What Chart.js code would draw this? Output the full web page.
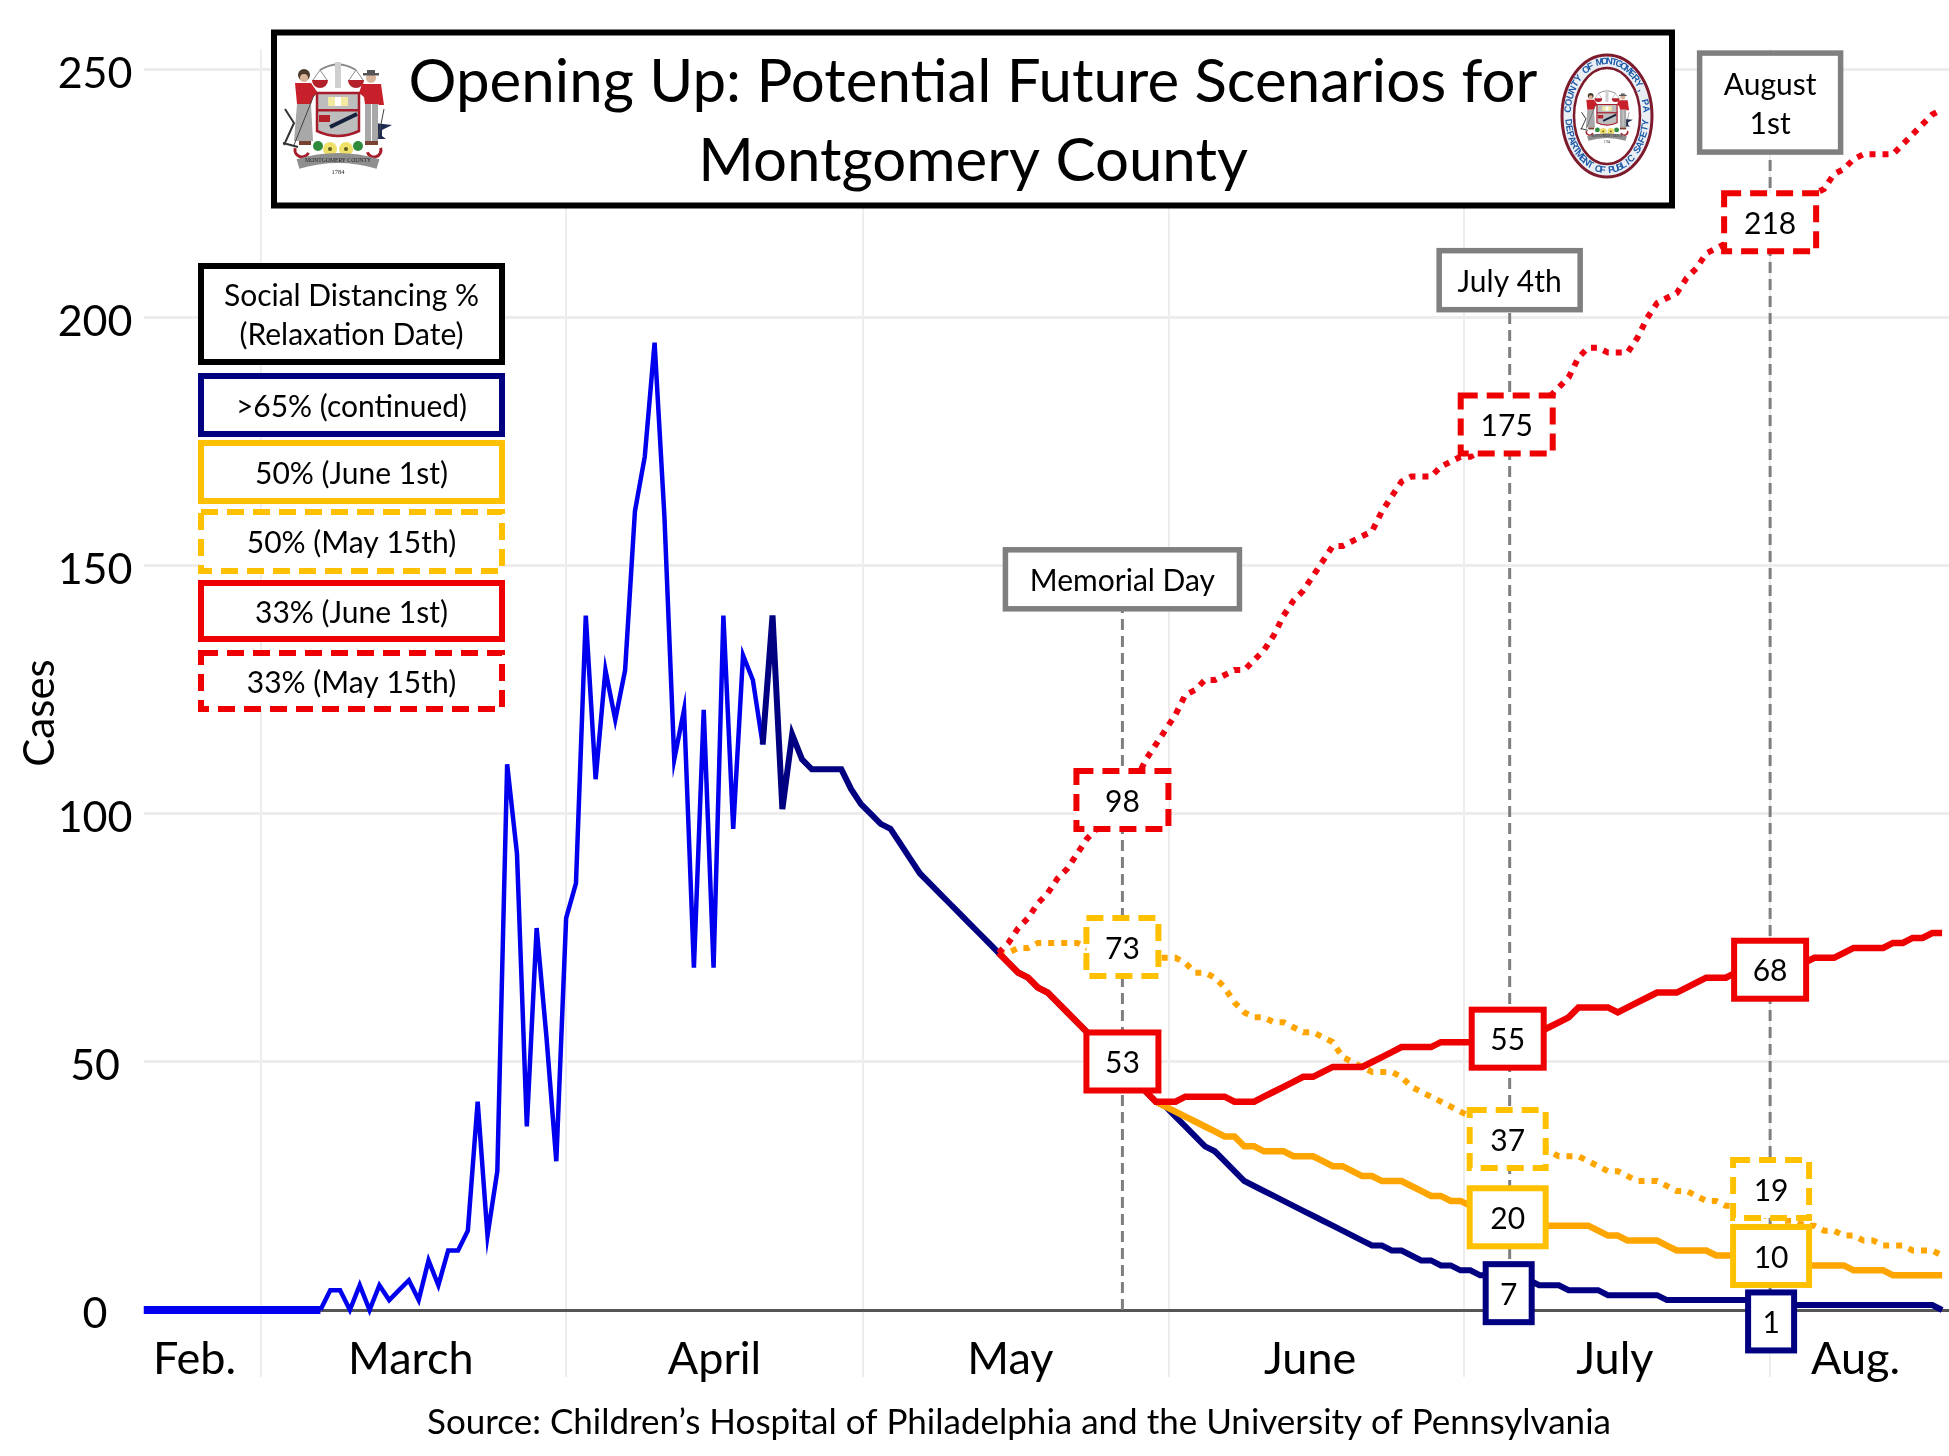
<!DOCTYPE html>
<html>
<head>
<meta charset="utf-8">
<title>Opening Up</title>
<script src="https://cdn.jsdelivr.net/npm/chart.js@4"></script>
<style>
  html, body { margin: 0; padding: 0; background: #fff; }
  canvas { display: block; }
</style>
</head>
<body>
<canvas id="chart" width="1949" height="1456"></canvas>
<script>
// days are counted from March 1st
const titleLines = ['Opening Up: Potential Future Scenarios for', 'Montgomery County'];
const sourceText = 'Source: Children\u2019s Hospital of Philadelphia and the University of Pennsylvania';
const yTicks = [0, 50, 100, 150, 200, 250];
const monthGridDays = [0, 31, 61.2, 92.3, 122.4, 153.5];
const monthNames = ['Feb.', 'March', 'April', 'May', 'June', 'July', 'Aug.'];
const monthLabelDays = [-6.8, 15.2, 46.1, 76.2, 106.7, 137.7, 162.2];

const observedStart = -12;
const observedCases = [0, 0, 0, 0, 0, 0, 0, 0, 0, 0, 0, 0, 0, 0, 0, 0, 0, 0, 0,
  4, 4, 0, 5, 0, 5, 2, 4, 6, 2, 10, 5, 12, 12, 16, 42, 15, 28, 110, 92, 37, 77, 55, 30,
  79, 86, 140, 107, 129, 119, 129, 161, 172, 195, 160, 111, 121, 69, 121, 69, 140, 97, 132, 127, 114];

const continuedStart = 51;
const continuedCases = [114, 140, 101, 116, 111, 109, 109, 109, 109, 105, 102, 100, 98, 97, 94, 91, 88, 86, 84, 82,
  80, 78, 76, 74, 72, 70, 68, 67, 65, 64, 62, 60, 58, 56, 54, 52, 50, 48, 46, 44, 42,
  41, 39, 37, 35, 33, 32, 30, 28, 26, 25, 24, 23, 22, 21, 20, 19, 18, 17, 16, 15, 14, 13, 13, 12, 12, 11, 10, 10, 9, 9, 8, 8, 7, 7, 7, 7, 6, 6,
  5, 5, 5, 4, 4, 4, 4, 3, 3, 3, 3, 3, 3, 2, 2, 2, 2, 2, 2, 2, 2, 2, 2, 2, 2, 2, 1, 1, 1, 1, 1, 1, 1, 1, 1, 1, 1, 1, 1, 1, 1, 0];

const june50Start = 91;
const june50Cases = [42, 41, 40, 39, 38, 37, 36, 35, 35, 33, 33, 32, 32, 32, 31, 31, 31, 30, 29, 29, 28, 27, 27, 26, 26, 26, 25, 24, 23, 23, 22, 22, 21, 21, 20, 20,
  19, 18, 18, 17, 17, 17, 17, 17, 17, 16, 15, 15, 14, 14, 14, 14, 13, 12, 12, 12, 12, 11, 11, 11, 11, 10, 10, 10, 10, 10,
  9, 9, 9, 9, 9, 8, 8, 8, 8, 7, 7, 7, 7, 7, 7];

const may50Start = 75;
const may50Cases = [72, 72, 73, 73, 74, 74, 74, 74, 74, 73, 73, 73, 73, 73, 72, 72, 71,
  71, 71, 70, 68, 68, 67, 65, 62, 60, 59, 59, 58, 58, 57, 56, 56, 55, 54, 51, 50, 49, 48, 48, 48, 47, 45, 44, 43, 42, 41, 40, 39, 38, 37, 36, 35, 34, 33, 33,
  32, 31, 31, 31, 30, 29, 28, 28, 27, 26, 26, 26, 25, 24, 24, 23, 22, 22, 21, 21, 20, 20, 19, 19, 18, 18, 17, 17, 16, 16, 15, 15, 14, 14, 13, 13, 13, 12, 12, 12, 11];

const june33Start = 75;
const june33Cases = [72, 70, 68, 67, 65, 64, 62, 60, 58, 56, 54, 52, 50, 48, 46, 44, 42, 42, 42, 43, 43, 43, 43, 43, 42, 42, 42, 43, 44, 45, 46, 47, 47, 48, 49, 49, 49, 49,
  50, 51, 52, 53, 53, 53, 53, 54, 54, 54, 54, 54, 55, 55, 55, 55, 56, 56, 57, 58, 59, 61, 61, 61, 61, 60, 61, 62, 63, 64, 64, 64, 65, 66, 67, 67, 67,
  68, 68, 68, 68, 69, 69, 70, 70, 71, 71, 71, 72, 73, 73, 73, 73, 74, 74, 75, 75, 76, 76];

const may33Start = 75;
const may33Cases = [72, 74, 77, 79, 82, 84, 87, 89, 92, 95, 97, 100, 102, 104, 107, 111, 114, 117,
  120, 124, 125, 127, 127, 128, 129, 129, 131, 133, 136, 140, 143, 145, 148, 151, 154, 154, 155, 156, 157, 161, 164, 167, 168, 168, 168, 170, 171, 172, 172,
  173, 175, 176, 177, 179, 181, 182, 184, 186, 188, 192, 194, 194, 193, 193, 193, 196, 200, 203, 204, 205, 208, 210, 213, 214, 215, 216, 217, 217, 218,
  219, 220, 222, 224, 225, 226, 229, 230, 232, 233, 233, 233, 233, 235, 237, 239, 241, 242];

// dashed guides: day and the level where the grey box sits
const eventNames = [['Memorial Day'], ['July 4th'], ['August', '1st']];
const eventDays = [87.6, 127, 153.5];
const eventLevels = [147.3, 207.6, 243.4];

// boxed values on the guides
const calloutTexts = ['98', '73', '53', '175', '55', '37', '20', '7', '218', '68', '19', '10', '1'];
const calloutDays = [87.6, 87.6, 87.6, 126.7, 126.8, 126.8, 126.8, 126.9, 153.5, 153.5, 153.6, 153.6, 153.6];
const calloutLevels = [102.8, 73.2, 50.1, 178.5, 54.7, 34.5, 18.7, 3.4, 219.3, 68.6, 24.4, 10.9, -2.3];
const calloutKinds = ['red33d', 'gold50dn', 'red33', 'red33d', 'red33', 'gold50d', 'gold50', 'navy', 'red33d', 'red33', 'gold50d', 'gold50', 'navy'];

const legendTexts = [['Social Distancing %', '(Relaxation Date)'], ['>65% (continued)'], ['50% (June 1st)'], ['50% (May 15th)'], ['33% (June 1st)'], ['33% (May 15th)']];
const legendKinds = ['black', 'navy', 'gold50', 'gold50d', 'red33', 'red33d'];

const FONT = 'Lato, "Open Sans", sans-serif';
const BOX_LINE = 6;
const boxStyles = {
  black: { color: '#000000', dash: [], width: 0 },
  navy: { color: '#000080', dash: [], width: 46 },
  gold50: { color: '#FFC000', dash: [], width: 76 },
  gold50d: { color: '#FFC000', dash: [17, 9], width: 76 },
  gold50dn: { color: '#FFC000', dash: [17, 9], width: 72 },
  red33: { color: '#EE0000', dash: [], width: 72 },
  red33d: { color: '#EE0000', dash: [17, 9], width: 92 }
};
const legendTop = [265, 375, 442, 511, 582, 652];
const legendBottom = [365, 437, 504, 574, 642, 712];

function toPoints(startDay, values) {
  return values.map((v, i) => ({ x: startDay + i, y: v }));
}

function centeredText(c, text, x, y, size) {
  c.font = size + 'px ' + FONT;
  c.textAlign = 'center';
  c.textBaseline = 'middle';
  c.fillStyle = '#000';
  c.fillText(text, x, y + 2);
}

function drawBox(c, cx, cy, w, h, color, dash, lw) {
  c.save();
  c.fillStyle = '#fff';
  c.fillRect(cx - w / 2, cy - h / 2, w, h);
  c.strokeStyle = color;
  c.lineWidth = lw;
  c.setLineDash(dash);
  c.lineJoin = 'miter';
  c.strokeRect(cx - w / 2, cy - h / 2, w, h);
  c.restore();
}

// rough county crest, s = 1 is the size of the one in the title box
function drawCrest(c, cx, cy, s) {
  c.save();
  c.translate(cx, cy);
  c.scale(s, s);
  const rect = (col, x, y, w, h) => { c.fillStyle = col; c.fillRect(x, y, w, h); };
  const dot = (col, x, y, r) => { c.fillStyle = col; c.beginPath(); c.arc(x, y, r, 0, Math.PI * 2); c.fill(); };
  const poly = (col, pts) => {
    c.fillStyle = col;
    c.beginPath();
    pts.forEach((p, i) => (i ? c.lineTo(p[0], p[1]) : c.moveTo(p[0], p[1])));
    c.closePath();
    c.fill();
  };
  // balance
  c.strokeStyle = '#8a8a8a'; c.lineWidth = 2;
  c.beginPath(); c.moveTo(-18, -47); c.quadraticCurveTo(0, -58, 18, -47); c.stroke();
  c.lineWidth = 1;
  [-18, 18].forEach(x => { c.beginPath(); c.moveTo(x, -47); c.lineTo(x - 7, -37); c.moveTo(x, -47); c.lineTo(x + 7, -37); c.stroke(); });
  rect('#d0d0d0', -3, -55, 6, 26);
  [-18, 18].forEach(x => { c.fillStyle = '#b3202a'; c.beginPath(); c.arc(x, -37, 8, 0, Math.PI); c.fill(); });
  // anvil and plough
  poly('#1d2a52', [[36, 6], [54, 8], [44, 13], [44, 19], [48, 22], [34, 22], [38, 13]]);
  c.strokeStyle = '#333'; c.lineWidth = 2;
  c.beginPath(); c.moveTo(-53, -8); c.lineTo(-44, 6); c.lineTo(-54, 28); c.moveTo(-40, 30); c.lineTo(-55, 26); c.stroke();
  // figures
  dot('#4a3a2a', -34, -42, 6); dot('#d8b49a', -34, -39, 4);
  poly('#c8202a', [[-43, -34], [-27, -34], [-20, -24], [-25, -20], [-27, -13], [-41, -13]]);
  poly('#a8a8a8', [[-41, -13], [-27, -13], [-25, 24], [-44, 24]]);
  c.strokeStyle = '#444'; c.lineWidth = 1;
  c.beginPath(); c.moveTo(-24, -22); c.lineTo(-44, 28); c.stroke();
  dot('#d8b49a', 33, -39, 5); rect('#555', 25, -44, 16, 2.5); rect('#555', 29, -47, 8, 3);
  poly('#c8202a', [[24, -33], [43, -33], [46, -12], [41, -12], [40, -13], [27, -13], [26, -20], [21, -24]]);
  rect('#a8a8a8', 27, -13, 6, 37); rect('#a8a8a8', 34, -13, 6, 37);
  c.strokeStyle = '#444';
  c.beginPath(); c.moveTo(46, -8); c.lineTo(40, 22); c.stroke();
  rect('#7a4030', -39, 24, 12, 4); rect('#7a4030', 27, 24, 13, 4);
  // shield
  c.fillStyle = '#bdbdbd'; c.strokeStyle = '#a51c2a'; c.lineWidth = 2.5;
  c.beginPath(); c.moveTo(-21, -24); c.lineTo(21, -24); c.lineTo(21, 14); c.quadraticCurveTo(0, 24, -21, 14); c.closePath(); c.fill(); c.stroke();
  rect('#a51c2a', -21, -8, 42, 2.5);
  rect('#f2eaa0', -10, -20, 20, 9); rect('#fff', -3, -20, 6, 9);
  rect('#b3202a', -19, -2, 11, 7);
  c.strokeStyle = '#14203c'; c.lineWidth = 4;
  c.beginPath(); c.moveTo(-8, 10); c.lineTo(19, -3); c.stroke();
  // flowers and scrolls
  c.strokeStyle = '#a51c2a'; c.lineWidth = 3;
  c.beginPath(); c.arc(-36, 33, 7, 0.4, 3.4); c.stroke();
  c.beginPath(); c.arc(36, 33, 7, -0.3, 2.8); c.stroke();
  dot('#2f8a3c', -20, 29, 5); dot('#2f8a3c', 20, 29, 5);
  dot('#efe06a', -8, 32, 7); dot('#efe06a', 8, 32, 7);
  dot('#5a5a20', -8, 32, 2); dot('#5a5a20', 8, 32, 2);
  // ribbon
  c.strokeStyle = '#8f8f8f'; c.lineWidth = 10;
  c.beginPath(); c.moveTo(-40, 47); c.quadraticCurveTo(0, 35, 40, 47); c.stroke();
  c.font = '6.5px "Liberation Serif", serif'; c.textAlign = 'center'; c.textBaseline = 'middle'; c.fillStyle = '#222';
  c.fillText('MONTGOMERY COUNTY', 0, 43, 66);
  c.fillText('1784', 0, 55);
  c.restore();
}

function arcText(c, text, cx, cy, rx, ry, from, to) {
  c.save();
  c.font = 'bold 9.5px "Liberation Sans", sans-serif';
  c.fillStyle = '#1c5aa8';
  c.textAlign = 'center';
  c.textBaseline = 'middle';
  for (let i = 0; i < text.length; i++) {
    const a = from + (to - from) * (i + 0.5) / text.length;
    c.save();
    c.translate(cx + rx * Math.cos(a), cy + ry * Math.sin(a));
    c.rotate(to > from ? a + Math.PI / 2 : a - Math.PI / 2);
    c.fillText(text[i], 0, 0);
    c.restore();
  }
  c.restore();
}

function drawSeal(c, cx, cy) {
  c.save();
  c.fillStyle = '#e9eef5';
  c.strokeStyle = '#7d1a2c';
  c.lineWidth = 3;
  c.beginPath(); c.ellipse(cx, cy, 45, 61, 0, 0, Math.PI * 2); c.fill(); c.stroke();
  c.fillStyle = '#fff';
  c.lineWidth = 2.5;
  c.beginPath(); c.ellipse(cx, cy, 33, 48, 0, 0, Math.PI * 2); c.fill(); c.stroke();
  c.restore();
  arcText(c, 'COUNTY OF MONTGOMERY, PA', cx, cy, 39, 54.5, Math.PI * 1.02, Math.PI * 1.98);
  arcText(c, 'DEPARTMENT OF PUBLIC SAFETY', cx, cy, 39, 54.5, Math.PI * 0.98, Math.PI * 0.02);
  drawCrest(c, cx, cy, 0.48);
}

const overlayPlugin = {
  id: 'overlay',
  afterDatasetsDraw(chart) {
    const c = chart.ctx;
    const xs = chart.scales.x;
    const ys = chart.scales.y;
    c.save();

    // grey event boxes
    eventNames.forEach((lines, i) => {
      const cx = xs.getPixelForValue(eventDays[i]);
      const cy = ys.getPixelForValue(eventLevels[i]);
      const w = i === 0 ? 234 : 141;
      const h = lines.length === 1 ? 59 : 99;
      drawBox(c, cx, cy, w, h, '#7F7F7F', [], 5.5);
      lines.forEach((t, j) => centeredText(c, t, cx, cy + (j - (lines.length - 1) / 2) * 39, 30));
    });

    // value boxes
    calloutTexts.forEach((t, i) => {
      const st = boxStyles[calloutKinds[i]];
      const cx = xs.getPixelForValue(calloutDays[i]);
      const cy = ys.getPixelForValue(calloutLevels[i]);
      drawBox(c, cx, cy, st.width, 58, st.color, st.dash, BOX_LINE);
      centeredText(c, t, cx, cy, 30);
    });

    // legend
    legendTexts.forEach((lines, i) => {
      const st = boxStyles[legendKinds[i]];
      const cy = (legendTop[i] + legendBottom[i]) / 2 - 1;
      const lw = BOX_LINE;
      drawBox(c, 351.5, cy, 301, legendBottom[i] - legendTop[i] - lw + 2, st.color, st.dash, lw);
      lines.forEach((t, j) => centeredText(c, t, 351.5, cy + (j - (lines.length - 1) / 2) * 39, 30));
    });

    // title box
    drawBox(c, 973, 119, 1398, 173, '#000', [], 6);
    titleLines.forEach((t, j) => centeredText(c, t, 973, 81 + j * 79, 60));
    drawCrest(c, 338, 117, 1);
    drawSeal(c, 1607, 116);

    centeredText(c, sourceText, 1019, 1421, 35);
    c.restore();
  }
};

const sharedLine = { pointRadius: 0, pointHoverRadius: 0, tension: 0, fill: false, borderCapStyle: 'butt', borderJoinStyle: 'miter' };
const eventDatasets = eventDays.map((d, i) => ({
  ...sharedLine,
  label: eventNames[i].join(' '),
  data: [{ x: d, y: 0 }, { x: d, y: eventLevels[i] }],
  borderColor: '#7F7F7F',
  borderWidth: 3,
  borderDash: [11, 6]
}));

const chart = new Chart(document.getElementById('chart').getContext('2d'), {
  type: 'line',
  plugins: [overlayPlugin],
  data: {
    datasets: [
      { ...sharedLine, label: '33% (May 15th)', data: toPoints(may33Start, may33Cases), borderColor: '#EE0011', borderWidth: 6, borderDash: [6, 7] },
      { ...sharedLine, label: '33% (June 1st)', data: toPoints(june33Start, june33Cases), borderColor: '#EE0000', borderWidth: 6.5 },
      { ...sharedLine, label: '50% (May 15th)', data: toPoints(may50Start, may50Cases), borderColor: '#FFA500', borderWidth: 6, borderDash: [6, 7] },
      { ...sharedLine, label: '50% (June 1st)', data: toPoints(june50Start, june50Cases), borderColor: '#FFA500', borderWidth: 6.5 },
      { ...sharedLine, label: '>65% (continued)', data: toPoints(continuedStart, continuedCases), borderColor: '#000080', borderWidth: 6 },
      {
        ...sharedLine,
        label: 'Observed',
        data: toPoints(observedStart, observedCases),
        borderColor: '#0000EE',
        borderWidth: 4.5,
        // the flat run along zero reads heavier in the source
        segment: { borderWidth: ctx => (ctx.p0.parsed.y === 0 && ctx.p1.parsed.y === 0 ? 8 : undefined) }
      },
      ...eventDatasets
    ]
  },
  options: {
    responsive: false,
    devicePixelRatio: 1,
    animation: false,
    layout: { padding: { top: 49, right: 0, bottom: 0, left: 0 } },
    plugins: { legend: { display: false }, tooltip: { enabled: false } },
    scales: {
      x: {
        type: 'linear',
        min: -12,
        max: 171.7,
        afterBuildTicks: axis => { axis.ticks = monthGridDays.map(v => ({ value: v })); },
        afterFit: axis => { axis.height = 0; },
        ticks: { display: false },
        border: { display: false },
        grid: { color: '#EDEDED', lineWidth: 2, drawTicks: false }
      },
      x2: {
        type: 'linear',
        position: 'bottom',
        min: -12,
        max: 171.7,
        afterBuildTicks: axis => { axis.ticks = monthLabelDays.map(v => ({ value: v })); },
        afterFit: axis => { axis.height = 79; },
        border: { display: false },
        grid: { display: false, drawTicks: false },
        ticks: {
          autoSkip: false,
          maxRotation: 0,
          mirror: true,
          padding: -9,
          color: '#000',
          font: { family: FONT, size: 45 },
          callback: (value, index) => monthNames[index]
        }
      },
      y: {
        min: -13.5,
        max: 254.2,
        afterBuildTicks: axis => { axis.ticks = yTicks.map(v => ({ value: v })); },
        afterFit: axis => { axis.width = 143.5; },
        border: { display: false },
        grid: {
          drawTicks: false,
          color: ctx => ctx.tick.value === 0 ? '#555555' : '#EDEDED',
          lineWidth: 3
        },
        title: { display: true, text: 'Cases', color: '#000', font: { family: FONT, size: 42 }, padding: { top: 15, bottom: 0 } },
        ticks: {
          crossAlign: 'center',
          padding: 11,
          labelOffset: 4,
          color: '#000',
          font: { family: FONT, size: 43 }
        }
      }
    }
  }
});
</script>
</body>
</html>
